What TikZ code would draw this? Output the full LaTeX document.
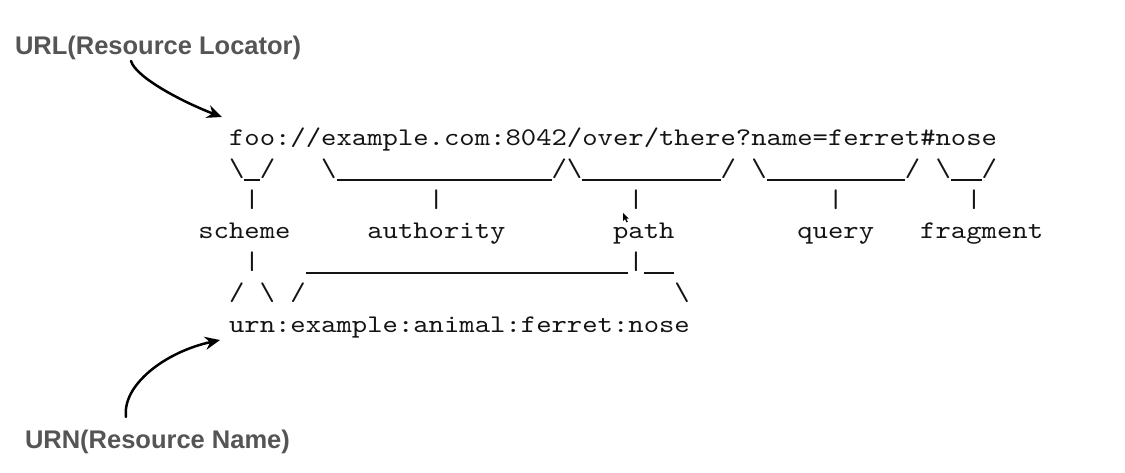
\documentclass[tikz,border=0pt]{standalone}
\usepackage{fontspec}
\newfontfamily\asciifont[FakeStretch=1.1519]{lmmono10-regular.otf}
\newfontfamily\labelfont{Liberation Sans}
\usetikzlibrary{arrows.meta}
\definecolor{labelgray}{RGB}{85,85,85}
\definecolor{ink}{RGB}{20,20,20}
\newcommand\bsl{\textbackslash}
% one underscore cell, drawn as a rule so that runs join into one line
\newcommand\us{\rule[-4pt]{15.36pt}{1.6pt}}
\begin{document}
\begin{tikzpicture}[x=1pt,y=-1pt,
  ascii/.style={anchor=base west,inner sep=0pt,outer sep=0pt,text=ink,
    font=\asciifont\fontsize{25.4}{31}\selectfont},
  biglabel/.style={anchor=base west,inner sep=0pt,outer sep=0pt,text=labelgray,
    font=\labelfont\bfseries\fontsize{25.5}{30}\selectfont},
  pointer/.style={line width=2.5pt,draw=black,line cap=round,
    -{Stealth[length=15pt,width=13pt]}}]
\useasboundingbox[fill=white] (0,0) rectangle (1125,473);
% column c starts at x = 90.8 + 15.36 c
\node[ascii] (url) at (229.04,146) {foo://example.com:8042/over/there?name=ferret\#nose};
\node[ascii] (braces) at (229.04,177) {\bsl\us/~~~\bsl\us\us\us\us\us\us\us\us\us\us\us\us\us\us/\bsl\us\us\us\us\us\us\us\us\us/~\bsl\us\us\us\us\us\us\us\us\us/~\bsl\us\us/};
\node[ascii] (bars) at (244.4,208) {|~~~~~~~~~~~|~~~~~~~~~~~~|~~~~~~~~~~~~|~~~~~~~~|};
\node[ascii] (scheme) at (198.32,239) {scheme};
\node[ascii] (authority) at (367.28,239) {authority};
\node[ascii] (path) at (613.04,239) {path};
\node[ascii] (query) at (797.36,239) {query};
\node[ascii] (fragment) at (920.24,239) {fragment};
\node[ascii] (join) at (244.4,270) {|~~~\us\us\us\us\us\us\us\us\us\us\us\us\us\us\us\us\us\us\us\us\us|\us\us};
\node[ascii] (split) at (229.04,301) {/~\bsl~/~~~~~~~~~~~~~~~~~~~~~~~~\bsl};
\node[ascii] (urn) at (229.04,332) {urn:example:animal:ferret:nose};
% labels
\node[biglabel] (urllabel) at (15,55) {URL(Resource Locator)};
\node[biglabel] (urnlabel) at (25,448) {URN(Resource Name)};
% arrows
\coordinate (urlstart) at (131,61);
\coordinate (urltip) at (222,117);
\coordinate (urnstart) at (126,417);
\coordinate (urntip) at (220,340);
\draw[pointer] (urlstart) .. controls (136,78) and (185,103) .. (urltip);
\draw[pointer] (urnstart) .. controls (122,385) and (165,352) .. (urntip);
% mouse cursor
\fill[black] (623,213) -- (623,221) -- (625,219.2) -- (626.6,222.4) -- (627.8,221.8) -- (626.3,218.6) -- (628.8,218.6) -- cycle;
\end{tikzpicture}
\end{document}
